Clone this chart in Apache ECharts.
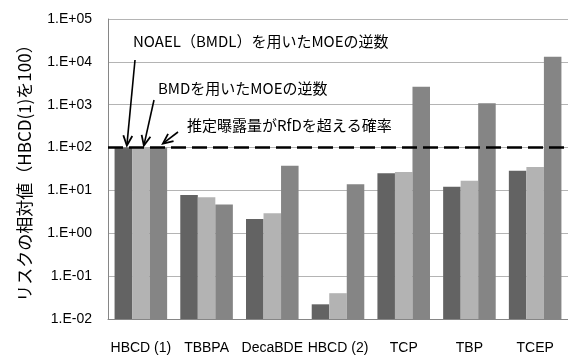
<!DOCTYPE html>
<html><head><meta charset="utf-8">
<script src="https://cdn.jsdelivr.net/npm/echarts@6/dist/echarts.min.js"></script>
<style>html,body{margin:0;padding:0;background:#fff}#c{width:568px;height:356px}</style>
</head><body><div id="c"></div>
<script>
const categories = ['HBCD (1)', 'TBBPA', 'DecaBDE', 'HBCD (2)', 'TCP', 'TBP', 'TCEP'];
const seriesNames = ['NOAEL（BMDL）を用いたMOEの逆数', 'BMDを用いたMOEの逆数', '推定曝露量がRfDを超える確率'];
const noaelValues = [100, 7.8, 2.15, 0.022, 25, 12.2, 28.8];
const bmdValues = [100, 6.9, 2.95, 0.04, 27, 16.9, 35];
const probValues = [100, 4.7, 37.5, 14, 2630, 1080, 13200];
const referenceLevel = 100;
const yTicks = ['1.E-02','1.E-01','1.E+00','1.E+01','1.E+02','1.E+03','1.E+04','1.E+05'];
const colors = ['#636363', '#b3b3b3', '#858585'];
const FONT = '"Liberation Sans", "Noto Sans CJK JP", sans-serif';
const JFONT = '"Noto Sans CJK JP", sans-serif';

const chart = echarts.init(document.getElementById('c'), null, {renderer: 'canvas'});
const option = {
  animation: false,
  backgroundColor: '#fff',
  textStyle: {fontFamily: FONT},
  grid: {left: 108, right: 0, top: 19, bottom: 37, containLabel: false, outerBoundsMode: 'none'},
  xAxis: {
    type: 'category', data: categories,
    axisLine: {lineStyle: {color: '#868686', width: 1}},
    axisTick: {show: false},
    axisLabel: {color: '#000', fontSize: 14, margin: 22, fontFamily: FONT, interval: 0}
  },
  yAxis: {
    type: 'log', logBase: 10, min: 0.01, max: 100000, startValue: 0.01,
    name: 'リスクの相対値（HBCD(1)を100）', nameLocation: 'middle', nameGap: 75, nameRotate: 90,
    nameTextStyle: {fontSize: 17, color: '#000', fontFamily: JFONT},
    axisLine: {show: true, lineStyle: {color: '#868686', width: 1}},
    axisTick: {show: false},
    splitLine: {show: true, lineStyle: {color: '#b4b4b4', width: 1}},
    axisLabel: {color: '#000', fontSize: 14, margin: 16, fontFamily: FONT,
      formatter: v => { const e = Math.round(Math.log10(v)); return yTicks[e + 2] || ''; }}
  },
  series: [
    {name: seriesNames[0], type: 'bar', data: noaelValues, itemStyle: {color: colors[0]}, barGap: '0%', barCategoryGap: '20%',
     markLine: {silent: true, symbol: 'none', label: {show: false},
       lineStyle: {color: '#000', width: 2.5, type: [15, 6]}, data: [{yAxis: referenceLevel}]}},
    {name: seriesNames[1], type: 'bar', data: bmdValues, itemStyle: {color: colors[1]}, barGap: '0%', barCategoryGap: '20%'},
    {name: seriesNames[2], type: 'bar', data: probValues, itemStyle: {color: colors[2]}, barGap: '0%', barCategoryGap: '20%'}
  ]
};
chart.setOption(option);

function arrow(x1, y1, x2, y2) {
  const ang = Math.atan2(y2 - y1, x2 - x1);
  const L = 10, W = 4.5;
  const bx = x2 - L * Math.cos(ang), by = y2 - L * Math.sin(ang);
  const px = -Math.sin(ang) * W, py = Math.cos(ang) * W;
  return [
    {type: 'line', shape: {x1: x1, y1: y1, x2: x2 - 1.5 * Math.cos(ang), y2: y2 - 1.5 * Math.sin(ang)}, style: {stroke: '#000', lineWidth: 1.6}, z: 100},
    {type: 'polyline', shape: {points: [[bx + px, by + py], [x2, y2], [bx - px, by - py]]}, style: {stroke: '#000', lineWidth: 1.8, fill: null}, z: 100}
  ];
}
const cx = chart.convertToPixel({xAxisIndex: 0}, categories[0]);
const ly = chart.convertToPixel({yAxisIndex: 0}, referenceLevel);
const g = [];
g.push(...arrow(135, 60, cx - 14, ly - 2));
g.push(...arrow(154, 100, cx + 3, ly - 2));
g.push(...arrow(178, 132, cx + 22, ly - 4));
const lbl = (t, x, y) => ({type: 'text', x: x, y: y, style: {text: t, fill: '#000', font: '15px ' + JFONT, verticalAlign: 'middle', align: 'left'}, z: 100});
g.push(lbl(seriesNames[0], 133, 41));
g.push(lbl(seriesNames[1], 158, 88));
g.push(lbl(seriesNames[2], 187, 125));
chart.setOption({graphic: g});
</script></body></html>
